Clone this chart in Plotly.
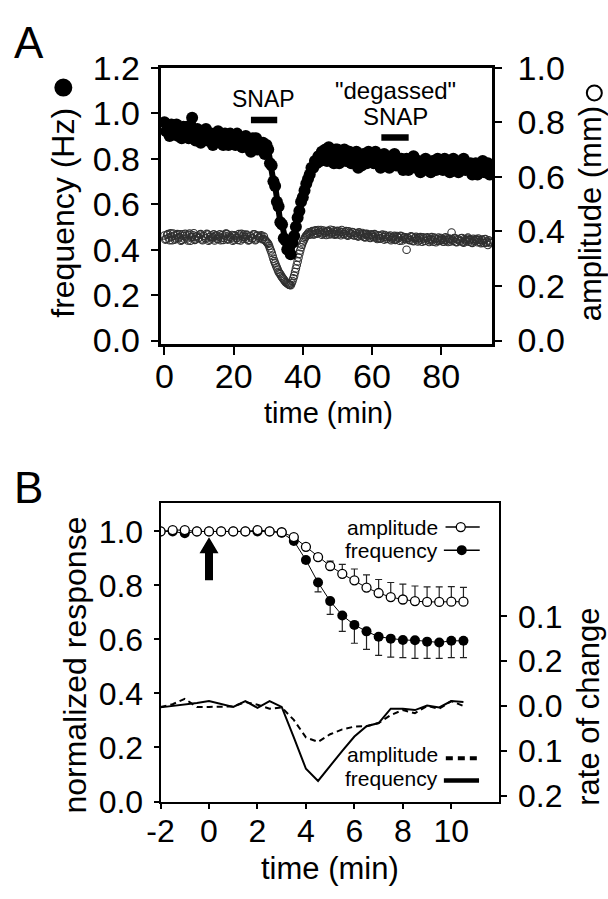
import numpy as np
import plotly.graph_objects as go

W, H = 608, 899
FONT = "Liberation Sans"

# ---------------- Panel A data ----------------
t_a = np.arange(0, 94.01, 0.5)      # frequency / amplitude sample times (min)
t_a2 = t_a + 0.25                   # interleaved amplitude samples (min)

freq_a = [
    0.96, 0.92, 0.94, 0.90, 0.95, 0.91, 0.92, 0.95, 0.90, 0.93,
    0.89, 0.94, 0.92, 0.94, 0.89, 0.92, 0.98, 0.91, 0.88, 0.93,
    0.92, 0.87, 0.91, 0.89, 0.93, 0.88, 0.90, 0.91, 0.86, 0.90,
    0.88, 0.92, 0.87, 0.90, 0.86, 0.91, 0.89, 0.86, 0.91, 0.88,
    0.90, 0.86, 0.91, 0.87, 0.88, 0.85, 0.88, 0.90, 0.85, 0.87,
    0.83, 0.89, 0.86, 0.89, 0.84, 0.87, 0.85, 0.87, 0.82, 0.86,
    0.84, 0.78, 0.77, 0.70, 0.68, 0.61, 0.59, 0.52, 0.51, 0.45,
    0.44, 0.40, 0.41, 0.38, 0.43, 0.46, 0.50, 0.54, 0.57, 0.61,
    0.63, 0.66, 0.69, 0.71, 0.73, 0.76, 0.76, 0.79, 0.78, 0.81,
    0.79, 0.83, 0.80, 0.84, 0.79, 0.85, 0.81, 0.83, 0.78, 0.84,
    0.84, 0.78, 0.82, 0.80, 0.84, 0.79, 0.81, 0.83, 0.78, 0.82,
    0.79, 0.83, 0.76, 0.81, 0.77, 0.82, 0.80, 0.78, 0.83, 0.79,
    0.82, 0.78, 0.83, 0.79, 0.80, 0.76, 0.80, 0.82, 0.77, 0.79,
    0.76, 0.81, 0.79, 0.82, 0.77, 0.80, 0.78, 0.80, 0.75, 0.79,
    0.80, 0.75, 0.79, 0.77, 0.81, 0.76, 0.78, 0.79, 0.74, 0.78,
    0.76, 0.80, 0.75, 0.78, 0.74, 0.79, 0.77, 0.75, 0.80, 0.76,
    0.79, 0.75, 0.80, 0.76, 0.77, 0.74, 0.78, 0.80, 0.75, 0.77,
    0.74, 0.79, 0.77, 0.80, 0.75, 0.78, 0.76, 0.78, 0.73, 0.77,
    0.78, 0.73, 0.77, 0.75, 0.79, 0.74, 0.76, 0.78, 0.73,
]

amp_a = [
    0.385, 0.372, 0.390, 0.368, 0.381, 0.392, 0.370, 0.386, 0.375, 0.389,
    0.369, 0.383, 0.391, 0.374, 0.387, 0.366, 0.380, 0.393, 0.371, 0.384,
    0.377, 0.390, 0.368, 0.382, 0.374, 0.388, 0.370, 0.385, 0.379, 0.367,
    0.386, 0.373, 0.389, 0.376, 0.369, 0.384, 0.391, 0.372, 0.380, 0.387,
    0.370, 0.383, 0.376, 0.390, 0.367, 0.381, 0.388, 0.373, 0.385, 0.369,
    0.382, 0.375, 0.389, 0.371, 0.384, 0.378, 0.386, 0.372, 0.370, 0.362,
    0.355, 0.338, 0.322, 0.300, 0.283, 0.268, 0.252, 0.243, 0.232, 0.224,
    0.215, 0.210, 0.205, 0.203, 0.218, 0.238, 0.264, 0.290, 0.318, 0.342,
    0.360, 0.374, 0.385, 0.392, 0.388, 0.398, 0.390, 0.402, 0.393, 0.405,
    0.396, 0.388, 0.403, 0.394, 0.400, 0.389, 0.406, 0.395, 0.399, 0.391,
    0.402, 0.393, 0.386, 0.398, 0.390, 0.401, 0.384, 0.395, 0.388, 0.397,
    0.386, 0.394, 0.381, 0.392, 0.383, 0.389, 0.378, 0.391, 0.382, 0.376,
    0.387, 0.379, 0.385, 0.372, 0.383, 0.375, 0.388, 0.370, 0.381, 0.374,
    0.380, 0.368, 0.377, 0.384, 0.371, 0.379, 0.366, 0.382, 0.373, 0.378,
    0.333, 0.375, 0.368, 0.380, 0.364, 0.376, 0.371, 0.367, 0.379, 0.362,
    0.374, 0.366, 0.378, 0.361, 0.372, 0.368, 0.377, 0.360, 0.371, 0.365,
    0.376, 0.363, 0.369, 0.374, 0.361, 0.372, 0.396, 0.365, 0.375, 0.360,
    0.370, 0.364, 0.376, 0.359, 0.368, 0.373, 0.362, 0.371, 0.358, 0.367,
    0.372, 0.360, 0.369, 0.357, 0.366, 0.371, 0.359, 0.350, 0.362,
]

amp_a2 = [
    0.370, 0.387, 0.377, 0.393, 0.368, 0.384, 0.374, 0.390, 0.379, 0.366,
    0.389, 0.373, 0.382, 0.367, 0.392, 0.378, 0.386, 0.369, 0.381, 0.375,
    0.388, 0.371, 0.384, 0.376, 0.391, 0.366, 0.380, 0.374, 0.389, 0.383,
    0.372, 0.381, 0.368, 0.387, 0.377, 0.392, 0.370, 0.385, 0.375, 0.366,
    0.386, 0.377, 0.369, 0.384, 0.391, 0.373, 0.380, 0.388, 0.367, 0.382,
    0.374, 0.389, 0.368, 0.385, 0.376, 0.383, 0.371, 0.381, 0.366, 0.358,
    0.347, 0.330, 0.311, 0.291, 0.275, 0.260, 0.247, 0.237, 0.228, 0.219,
    0.212, 0.207, 0.204, 0.210, 0.228, 0.251, 0.277, 0.304, 0.330, 0.351,
    0.367, 0.380, 0.388, 0.397, 0.393, 0.401, 0.389, 0.404, 0.392, 0.399,
    0.405, 0.392, 0.398, 0.387, 0.402, 0.397, 0.390, 0.404, 0.388, 0.400,
    0.389, 0.399, 0.405, 0.391, 0.396, 0.387, 0.400, 0.392, 0.398, 0.385,
    0.393, 0.384, 0.397, 0.388, 0.394, 0.380, 0.390, 0.386, 0.378, 0.389,
    0.381, 0.390, 0.377, 0.386, 0.373, 0.384, 0.379, 0.387, 0.372, 0.382,
    0.385, 0.373, 0.381, 0.369, 0.383, 0.376, 0.384, 0.367, 0.379, 0.371,
    0.377, 0.369, 0.382, 0.366, 0.374, 0.380, 0.363, 0.376, 0.370, 0.378,
    0.365, 0.376, 0.370, 0.367, 0.379, 0.362, 0.373, 0.366, 0.377, 0.369,
    0.371, 0.362, 0.378, 0.367, 0.374, 0.363, 0.370, 0.376, 0.361, 0.372,
    0.366, 0.375, 0.361, 0.372, 0.364, 0.377, 0.368, 0.360, 0.373, 0.365,
    0.368, 0.374, 0.361, 0.370, 0.358, 0.372, 0.363, 0.367, 0.357,
]

snap_start = [25.0, 62.7]   # drug application periods (min)
snap_end = [32.6, 70.6]

# ---------------- Panel B data ----------------
t_b = [-2, -1.5, -1, -0.5, 0, 0.5, 1, 1.5, 2, 2.5, 3, 3.5, 4,
       4.5, 5, 5.5, 6, 6.5, 7, 7.5, 8, 8.5, 9, 9.5, 10, 10.5]

amp_norm = [1.0, 1.005, 1.005, 1.0, 1.0, 1.0, 1.0, 1.0, 1.005, 1.0, 0.997,
            0.979, 0.943, 0.905, 0.872, 0.843, 0.819, 0.792, 0.772, 0.757,
            0.748, 0.742, 0.739, 0.739, 0.740, 0.740]
amp_err_up = [0, 0, 0, 0, 0, 0, 0, 0, 0, 0, 0,
              0.004, 0.006, 0.010, 0.018, 0.035, 0.042, 0.047, 0.050, 0.054,
              0.057, 0.056, 0.056, 0.056, 0.056, 0.053]

freq_norm = [1.0, 1.0, 0.993, 1.0, 1.0, 1.0, 1.0, 1.0, 1.0, 1.0, 0.995,
             0.965, 0.894, 0.811, 0.742, 0.689, 0.654, 0.630, 0.610, 0.603,
             0.598, 0.597, 0.592, 0.589, 0.595, 0.595]
freq_err_down = [0, 0, 0, 0, 0, 0, 0, 0, 0, 0, 0,
                 0.005, 0.010, 0.035, 0.049, 0.059, 0.068, 0.067, 0.069, 0.068,
                 0.065, 0.067, 0.062, 0.059, 0.062, 0.062]

freq_rate = [-0.003, 0.0, 0.004, 0.007, 0.011, 0.005, -0.002, 0.011, -0.004, 0.011,
             -0.002, -0.070, -0.140, -0.167, -0.133, -0.100, -0.068, -0.045, -0.038,
             -0.006, -0.006, -0.009, 0.001, -0.003, 0.011, 0.009]
amp_rate = [-0.002, 0.004, 0.016, -0.002, -0.002, -0.001, -0.001, 0.009, 0.003, -0.006,
            -0.003, -0.031, -0.070, -0.080, -0.063, -0.052, -0.046, -0.045, -0.038,
            -0.020, -0.009, -0.016, 0.0, -0.006, 0.011, 0.0]

b_xtickvals = [-2, 0, 2, 4, 6, 8, 10]
b_xticktext = ["-2", "0", "2", "4", "6", "8", "10"]
rate_tickvals = [0.2, 0.1, 0.0, -0.1, -0.2]
rate_ticktext = ["0.1", "0.2", "0.0", "0.1", "0.2"]

# ---------------- helpers ----------------
def px(x, y):
    return x / W, 1 - y / H

dom_ax = [150 / W, 489.3 / W]
dom_ay = [1 - 339 / H, 1 - 50.7 / H]
dom_bx = [150 / W, 496 / W]
dom_by = [1 - 816 / H, 1 - 504 / H]

fig = go.Figure()

# Panel A
fig.add_trace(go.Scatter(
    x=list(t_a) + list(t_a2), y=amp_a + amp_a2, mode="markers", xaxis="x", yaxis="y",
    showlegend=False,
    marker=dict(symbol="circle-open", size=7.5, color="#303030", line=dict(width=1.1)),
))
fig.add_trace(go.Scatter(
    x=t_a, y=freq_a, mode="lines+markers", xaxis="x", yaxis="y2", showlegend=False,
    line=dict(color="black", width=6),
    marker=dict(symbol="circle", size=12, color="black", line=dict(width=0)),
))

# Panel B
fig.add_trace(go.Scatter(
    x=t_b, y=freq_rate, mode="lines", xaxis="x2", yaxis="y4", showlegend=False,
    line=dict(color="black", width=2),
))
fig.add_trace(go.Scatter(
    x=t_b, y=amp_rate, mode="lines", xaxis="x2", yaxis="y4", showlegend=False,
    line=dict(color="black", width=2, dash="6px,4px"),
))
fig.add_trace(go.Scatter(
    x=t_b, y=freq_norm, mode="lines+markers", xaxis="x2", yaxis="y3", showlegend=False,
    line=dict(color="black", width=1),
    marker=dict(symbol="circle", size=10, color="black"),
    error_y=dict(type="data", symmetric=False, array=[0] * len(t_b),
                 arrayminus=freq_err_down, color="#222", thickness=1.2, width=3.5),
))
fig.add_trace(go.Scatter(
    x=t_b, y=amp_norm, mode="lines+markers", xaxis="x2", yaxis="y3", showlegend=False,
    line=dict(color="black", width=1),
    marker=dict(symbol="circle", size=9, color="white", line=dict(color="black", width=1.3)),
    error_y=dict(type="data", symmetric=False, array=amp_err_up,
                 arrayminus=[0] * len(t_b), color="#222", thickness=1.2, width=3.5),
))

common = dict(showline=True, linecolor="black", ticks="outside", tickwidth=2,
              tickcolor="black", showgrid=False, zeroline=False)
fontA = dict(family=FONT, size=34, color="black")
fontB = dict(family=FONT, size=32, color="black")

fig.update_layout(
    width=W, height=H, margin=dict(l=0, r=0, t=0, b=0),
    paper_bgcolor="white", plot_bgcolor="white",
    font=dict(family=FONT, color="black"),
    xaxis=dict(domain=dom_ax, anchor="y", range=[-1.13, 94.7], tickvals=[0, 20, 40, 60, 80],
               mirror=True, linewidth=2.5, ticklen=8, tickfont=fontA, ticklabelstandoff=-8,
               **common),
    yaxis=dict(domain=dom_ay, anchor="x", side="right", range=[-0.0142, 1.0],
               tickvals=[0, 0.2, 0.4, 0.6, 0.8, 1.0], tickformat=".1f",
               linewidth=2.5, ticklen=7, tickfont=fontA, ticklabelstandoff=9, **common),
    yaxis2=dict(overlaying="y", anchor="x", side="left", range=[-0.017, 1.2],
                tickvals=[0, 0.2, 0.4, 0.6, 0.8, 1.0, 1.2], tickformat=".1f",
                linewidth=2.5, ticklen=7, tickfont=fontA, ticklabelstandoff=4, **common),
    xaxis2=dict(domain=dom_bx, anchor="y3", range=[-2, 11.95], tickvals=b_xtickvals,
                ticktext=b_xticktext,
                mirror=True, linewidth=2, ticklen=5, tickfont=fontB, ticklabelstandoff=-6,
                **common),
    yaxis3=dict(domain=dom_by, anchor="x2", side="left", range=[-0.003, 1.106],
                tickvals=[0, 0.2, 0.4, 0.6, 0.8, 1.0], tickformat=".1f",
                linewidth=2, ticklen=5, tickfont=fontB, ticklabelstandoff=4, **common),
    yaxis4=dict(overlaying="y3", anchor="x2", side="right", range=[-0.2148, 0.4533],
                tickvals=rate_tickvals, ticktext=rate_ticktext,
                linewidth=2, ticklen=6, tickfont=fontB, ticklabelstandoff=5, **common),
)

ann = []
def text(x, y, s, size, angle=0, xanchor="center"):
    xx, yy = px(x, y)
    ann.append(dict(x=xx, y=yy, xref="paper", yref="paper", text=s, showarrow=False,
                    textangle=angle, xanchor=xanchor, yanchor="middle", borderpad=0,
                    font=dict(family=FONT, size=size, color="black")))

text(15.5, 25, "A", 44)
text(14.5, 488, "B", 44)
text(322, 410, "time (min)", 29)
text(50, 202, "frequency (Hz)", 32, -90)
text(590, 203, "amplitude (mm)", 31, -90)
text(255.7, 83.3, "SNAP", 23)
text(390.5, 75, "\"degassed\"", 24)
text(390, 101.7, "SNAP", 24)
text(323, 885, "time (min)", 31)
text(62, 673, "normalized response", 32, -90)
text(588, 716, "rate of change", 31, -90)
text(435, 529.3, "amplitude", 21, xanchor="right")
text(435, 553.3, "frequency", 21, xanchor="right")
text(435, 766.7, "amplitude", 21, xanchor="right")
text(435, 791.7, "frequency", 21, xanchor="right")
fig.update_layout(annotations=ann)

shapes = []
# SNAP bars (frequency axis units)
levels = [0.97, 0.893]
for s0, s1, lv in zip(snap_start, snap_end, levels):
    shapes.append(dict(type="rect", xref="x", yref="y2", x0=s0, x1=s1, y0=lv - 0.014, y1=lv + 0.014,
                       fillcolor="black", line=dict(width=0)))

def circle(x, y, d, fill, lw=1.3):
    xx, yy = px(x, y)
    shapes.append(dict(type="circle", xref="paper", yref="paper", xsizemode="pixel", ysizemode="pixel",
                       xanchor=xx, yanchor=yy, x0=-d / 2, x1=d / 2, y0=-d / 2, y1=d / 2,
                       fillcolor=fill, line=dict(color="black", width=lw)))

def hline(x0, x1, y, w, dash="solid"):
    a0, yy = px(x0, y)
    a1, _ = px(x1, y)
    shapes.append(dict(type="line", xref="paper", yref="paper", x0=a0, x1=a1, y0=yy, y1=yy,
                       line=dict(color="black", width=w, dash=dash)))

# axis-title symbols
circle(50.5, 71.4, 18, "black", 0)
circle(594, 77, 15, "white", 2)
# panel B legend
hline(441.7, 476.7, 529.3, 1.5)
circle(457.3, 529.3, 9, "white")
hline(440, 476.7, 553.3, 1.5)
circle(458.3, 553.3, 10, "black", 0)
hline(442, 477, 770, 4, "7px,5px")
hline(440, 476, 793.3, 4.5)
# arrow at t = 0
shapes.append(dict(type="path", xref="x2", yref="y3", xsizemode="pixel", ysizemode="pixel",
                   xanchor=0, yanchor=0.819,
                   path="M -4,0 L 4,0 L 4,27 L 9.5,27 L 0,43 L -9.5,27 L -4,27 Z",
                   fillcolor="black", line=dict(width=0)))
fig.update_layout(shapes=shapes)

fig.write_html("out.html", config={"displayModeBar": False},
               post_script="document.body.style.margin='0px';document.body.style.overflow='hidden';")
